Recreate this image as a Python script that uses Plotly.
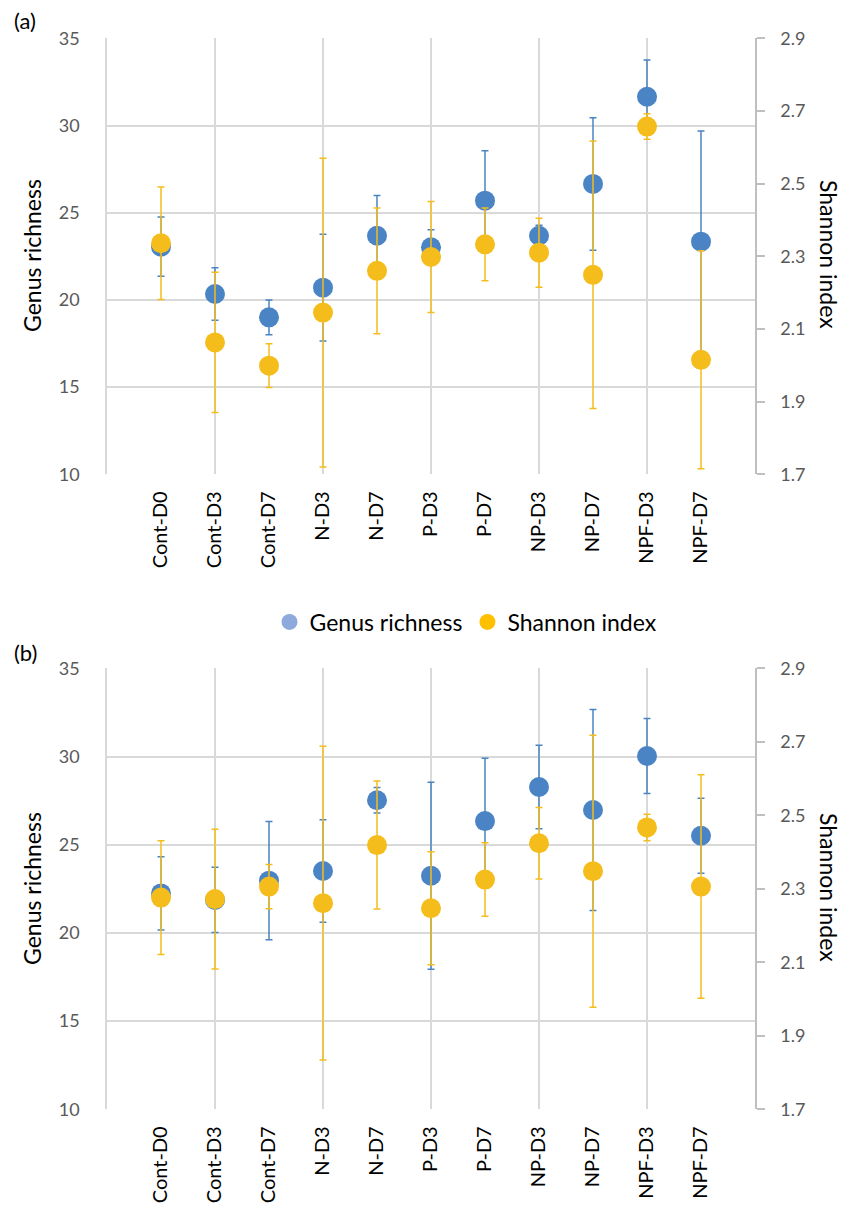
import plotly.graph_objects as go

categories = ["Cont-D0", "Cont-D3", "Cont-D7", "N-D3", "N-D7", "P-D3", "P-D7",
              "NP-D3", "NP-D7", "NPF-D3", "NPF-D7"]
xpos = list(range(len(categories)))

# Panel (a)
rich_a = [23.05, 20.34, 19.0, 20.7, 23.68, 23.02, 25.69, 23.68, 26.65, 31.65, 23.34]
rich_a_err = [1.7, 1.5, 1.0, 3.06, 2.3, 1.0, 2.86, 0.6, 3.8, 2.1, 6.34]
shan_a = [2.336, 2.063, 1.999, 2.145, 2.260, 2.298, 2.333, 2.310, 2.249, 2.657, 2.015]
shan_a_err = [0.155, 0.193, 0.06, 0.425, 0.173, 0.153, 0.10, 0.095, 0.368, 0.035, 0.30]

# Panel (b)
rich_b = [22.24, 21.87, 22.96, 23.51, 27.52, 23.24, 26.34, 28.27, 26.97, 30.03, 25.51]
rich_b_err = [2.07, 1.85, 3.35, 2.9, 0.72, 5.3, 3.56, 2.37, 5.7, 2.13, 2.13]
shan_b = [2.276, 2.272, 2.306, 2.261, 2.419, 2.247, 2.325, 2.424, 2.348, 2.467, 2.306]
shan_b_err = [0.155, 0.19, 0.06, 0.427, 0.174, 0.154, 0.10, 0.097, 0.37, 0.036, 0.304]

left_ticks = [10, 15, 20, 25, 30, 35]
right_ticks = [1.7, 1.9, 2.1, 2.3, 2.5, 2.7, 2.9]

BLUE = "#4A84C4"
YELLOW = "#F5BD1C"
BLUE_LEG = "#8EA9DB"
YELLOW_LEG = "#FFC000"
GRID = "#D9D9D9"
TICKC = "#595959"
FONT = "Lato, Open Sans, sans-serif"

# page body has an 8px margin; figure sized to fit inside the window
OFF = 8
W, H = 865 - 2 * OFF, 1213 - 2 * OFF


def fx(px):
    return (px - OFF) / W


def fy(py):
    return 1 - (py - OFF) / H


XD = [fx(107), fx(755)]
YD_A = [fy(474.3), fy(38.3)]
YD_B = [fy(1109.3), fy(668.3)]

fig = go.Figure()


def add_panel(rich, rerr, shan, serr, xa, ya, ya2):
    fig.add_trace(go.Scatter(
        x=xpos, y=rich, mode="markers", xaxis=xa, yaxis=ya, showlegend=False,
        marker=dict(size=20, color=BLUE),
        error_y=dict(type="data", array=rerr, visible=True, color=BLUE,
                     thickness=1.5, width=3.5)))
    fig.add_trace(go.Scatter(
        x=xpos, y=shan, mode="markers", xaxis=xa, yaxis=ya2, showlegend=False,
        marker=dict(size=20, color=YELLOW),
        error_y=dict(type="data", array=serr, visible=True, color=YELLOW,
                     thickness=1.5, width=3.5)))


add_panel(rich_a, rich_a_err, shan_a, shan_a_err, "x", "y", "y2")
add_panel(rich_b, rich_b_err, shan_b, shan_b_err, "x2", "y3", "y4")

# legend-only entries
fig.add_trace(go.Scatter(x=[None], y=[None], mode="markers", name="Genus richness",
                         marker=dict(size=22, color=BLUE_LEG)))
fig.add_trace(go.Scatter(x=[None], y=[None], mode="markers", name="Shannon index",
                         marker=dict(size=22, color=YELLOW_LEG)))

xcommon = dict(
    domain=XD, range=[-1, 11], tickmode="array", tickvals=xpos, ticktext=categories,
    tickangle=-90, showgrid=False, zeroline=False, showline=False, ticks="",
    automargin=False,
    tickfont=dict(family=FONT, size=20, color="black"), ticklabelstandoff=12,
    minor=dict(tickvals=[-1, 1, 3, 5, 7, 9, 11], showgrid=True, gridcolor=GRID,
               gridwidth=1.5, ticks=""),
)
yleft = dict(
    range=[10, 35], tickmode="array", tickvals=left_ticks, showgrid=True,
    gridcolor=GRID, gridwidth=1.5, zeroline=False, showline=True, linecolor=GRID,
    linewidth=1.5, ticks="", automargin=False,
    tickfont=dict(family=FONT, size=18, color=TICKC), ticklabelstandoff=22,
)
yright = dict(
    range=[1.7, 2.9], tickmode="array", tickvals=right_ticks,
    ticktext=[f"{v:.1f}" for v in right_ticks], showgrid=False, zeroline=False,
    showline=True, linecolor="#BFBFBF", linewidth=1.5, ticks="outside", ticklen=8,
    tickcolor="#BFBFBF", tickwidth=1.5, side="right", automargin=False,
    tickfont=dict(family=FONT, size=18, color=TICKC), ticklabelstandoff=12,
)

fig.update_layout(
    width=W, height=H, margin=dict(l=0, r=0, t=0, b=0, autoexpand=False),
    paper_bgcolor="white", plot_bgcolor="white",
    font=dict(family=FONT, color="black"),
    xaxis=dict(anchor="y", **xcommon),
    xaxis2=dict(anchor="y3", **xcommon),
    yaxis=dict(domain=YD_A, anchor="x", **yleft),
    yaxis2=dict(overlaying="y", anchor="x", **yright),
    yaxis3=dict(domain=YD_B, anchor="x2", **yleft),
    yaxis4=dict(overlaying="y3", anchor="x2", **yright),
    showlegend=True,
    legend=dict(orientation="h", x=fx(466), xanchor="center", y=fy(622),
                yanchor="middle", font=dict(family=FONT, size=23, color="black"),
                itemsizing="trace", bgcolor="rgba(0,0,0,0)", itemwidth=30),
)

annots = [
    dict(text="(a)", x=fx(12), y=fy(20), xanchor="left", textangle=0, size=22),
    dict(text="(b)", x=fx(12), y=fy(652), xanchor="left", textangle=0, size=22),
    dict(text="Genus richness", x=fx(32), y=fy(256), xanchor="center", textangle=-90, size=23),
    dict(text="Genus richness", x=fx(32), y=fy(889), xanchor="center", textangle=-90, size=23),
    dict(text="Shannon index", x=fx(829), y=fy(254), xanchor="center", textangle=90, size=23),
    dict(text="Shannon index", x=fx(829), y=fy(887), xanchor="center", textangle=90, size=23),
]
for a in annots:
    fig.add_annotation(text=a["text"], x=a["x"], y=a["y"], xref="paper", yref="paper",
                       xanchor=a["xanchor"], yanchor="middle", textangle=a["textangle"],
                       showarrow=False, font=dict(family=FONT, size=a["size"], color="black"))

fig.write_html("out.html")
